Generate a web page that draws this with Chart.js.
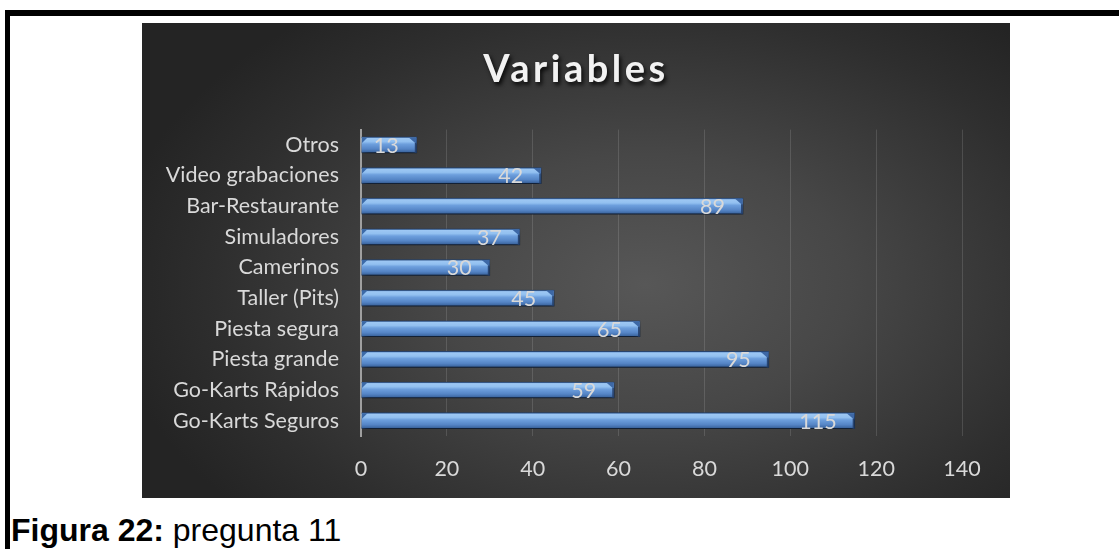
<!DOCTYPE html>
<html>
<head>
<meta charset="utf-8">
<script src="https://cdn.jsdelivr.net/npm/chart.js@4.4.1/dist/chart.umd.min.js"></script>
<style>
  html, body { margin: 0; padding: 0; background: #ffffff; width: 1119px; height: 549px; overflow: hidden; position: relative; }
  #borderTop { position: absolute; left: 5px; top: 10px; width: 1114px; height: 6px; background: #000; }
  #borderLeft { position: absolute; left: 5px; top: 10px; width: 5px; height: 539px; background: #000; }
  #panel { position: absolute; left: 142px; top: 23px; width: 868px; height: 475px;
    background: radial-gradient(ellipse 62% 72% at 58% 55%, #575757 0%, #474747 38%, #2e2e2e 80%, #242424 100%); }
  #chart { position: absolute; left: 0; top: 0; }
  #caption { position: absolute; left: 11px; top: 514px; font-family: "Liberation Sans", Arial, sans-serif; font-size: 32px; line-height: 32px; color: #000; white-space: nowrap; }
  #caption b { font-weight: bold; }
</style>
</head>
<body>
<div id="borderTop"></div>
<div id="borderLeft"></div>
<div id="panel"><canvas id="chart" width="868" height="475"></canvas></div>
<div id="caption"><b>Figura 22:</b> pregunta 11</div>
<script>
const chartTitle = "Variables";
const categories = ["Otros", "Video grabaciones", "Bar-Restaurante", "Simuladores", "Camerinos",
  "Taller (Pits)", "Piesta segura", "Piesta grande", "Go-Karts Rápidos", "Go-Karts Seguros"];
const values = [13, 42, 89, 37, 30, 45, 65, 95, 59, 115];
const xTicks = [0, 20, 40, 60, 80, 100, 120, 140];

const BAR_H = 16;
const RIGHT_PAD = 48;

function barGradient(c) {
  const chart = c.chart;
  const ys = chart.scales && chart.scales.y;
  if (!ys || c.dataIndex === undefined) return '#5b8fd4';
  const yc = ys.getPixelForValue(c.dataIndex);
  if (!isFinite(yc)) return '#5b8fd4';
  const g = chart.ctx.createLinearGradient(0, yc - BAR_H / 2, 0, yc + BAR_H / 2);
  g.addColorStop(0, '#4a7bbd');
  g.addColorStop(0.1, '#9dc7f3');
  g.addColorStop(0.3, '#92c0f0');
  g.addColorStop(0.45, '#6d9fdd');
  g.addColorStop(0.75, '#5585c6');
  g.addColorStop(0.92, '#3f6aa5');
  g.addColorStop(1, '#2d4f80');
  return g;
}

const barFx = {
  id: 'barFx',
  afterInit(chart) {
    const tb = chart.titleBlock;
    if (tb) {
      const orig = tb.draw.bind(tb);
      tb.draw = function (area) {
        const ctx = chart.ctx;
        ctx.save();
        ctx.translate(RIGHT_PAD / 2, 0);
        ctx.shadowColor = 'rgba(0,0,0,0.85)';
        ctx.shadowBlur = 4;
        ctx.shadowOffsetX = 2;
        ctx.shadowOffsetY = 3;
        try { ctx.letterSpacing = '3.5px'; } catch (e) {}
        orig(area);
        ctx.restore();
      };
    }
  },
  beforeDatasetsDraw(chart) {
    const ctx = chart.ctx;
    ctx.save();
    ctx.shadowColor = 'rgba(0,0,0,0.75)';
    ctx.shadowBlur = 6;
    ctx.shadowOffsetX = 1;
    ctx.shadowOffsetY = 3;
  },
  afterDatasetsDraw(chart) {
    const ctx = chart.ctx;
    ctx.restore();
    const meta = chart.getDatasetMeta(0);
    ctx.save();
    meta.data.forEach((bar, i) => {
      const p = bar.getProps(['x', 'y', 'base', 'height'], true);
      if (!isFinite(p.x) || !isFinite(p.y)) return;
      const top = p.y - p.height / 2;
      const bot = p.y + p.height / 2;
      const end = p.x;
      const b = p.base;
      ctx.fillStyle = '#3d68a6';
      ctx.beginPath();
      ctx.moveTo(end - 8, top + 0.5);
      ctx.lineTo(end - 0.5, top + 0.5);
      ctx.lineTo(end - 0.5, top + 7);
      ctx.closePath();
      ctx.fill();
      ctx.fillStyle = 'rgba(35,62,105,0.9)';
      ctx.fillRect(end - 2, top + 6, 1.5, bot - top - 6);
      ctx.fillStyle = '#3c6aa8';
      ctx.beginPath();
      ctx.moveTo(b + 0.5, top + 0.5);
      ctx.lineTo(b + 6, top + 0.5);
      ctx.lineTo(b + 0.5, top + 6);
      ctx.closePath();
      ctx.fill();
      ctx.fillStyle = '#d9d9d9';
      ctx.font = '21.5px Lato, "Open Sans", sans-serif';
      ctx.textAlign = 'right';
      ctx.textBaseline = 'middle';
      ctx.fillText(String(values[i]), end - 18, p.y + 1);
    });
    ctx.restore();
  }
};

Chart.defaults.font.family = 'Lato, "Open Sans", sans-serif';

new Chart(document.getElementById('chart'), {
  type: 'bar',
  data: {
    labels: categories,
    datasets: [{
      data: values,
      backgroundColor: barGradient,
      borderColor: '#2c4c7c',
      borderWidth: 1,
      barThickness: BAR_H
    }]
  },
  options: {
    indexAxis: 'y',
    responsive: false,
    devicePixelRatio: 1,
    animation: false,
    layout: { padding: { left: 0, right: RIGHT_PAD, top: 0, bottom: 0 } },
    plugins: {
      legend: { display: false },
      tooltip: { enabled: false },
      title: {
        display: true,
        text: chartTitle,
        color: '#f2f2f2',
        font: { family: 'Lato, "Open Sans", sans-serif', size: 38, weight: 'bold', lineHeight: 1.2 },
        padding: { top: 24, bottom: 37 }
      }
    },
    scales: {
      x: {
        min: 0,
        max: 140,
        afterBuildTicks: (s) => { s.ticks = xTicks.map(v => ({ value: v })); },
        grid: { color: 'rgba(255,255,255,0.13)', lineWidth: 1, drawTicks: false },
        border: { display: false },
        ticks: { color: '#d9d9d9', font: { size: 21.5 }, padding: 20 },
        afterFit: (s) => { s.height = 62; }
      },
      y: {
        grid: { display: false, drawTicks: false },
        border: { display: true, color: '#a0a0a0', width: 2 },
        ticks: { color: '#d9d9d9', font: { size: 21.5 }, padding: 22 },
        afterFit: (s) => { s.width = 219; }
      }
    }
  },
  plugins: [barFx]
});
</script>
</body>
</html>
